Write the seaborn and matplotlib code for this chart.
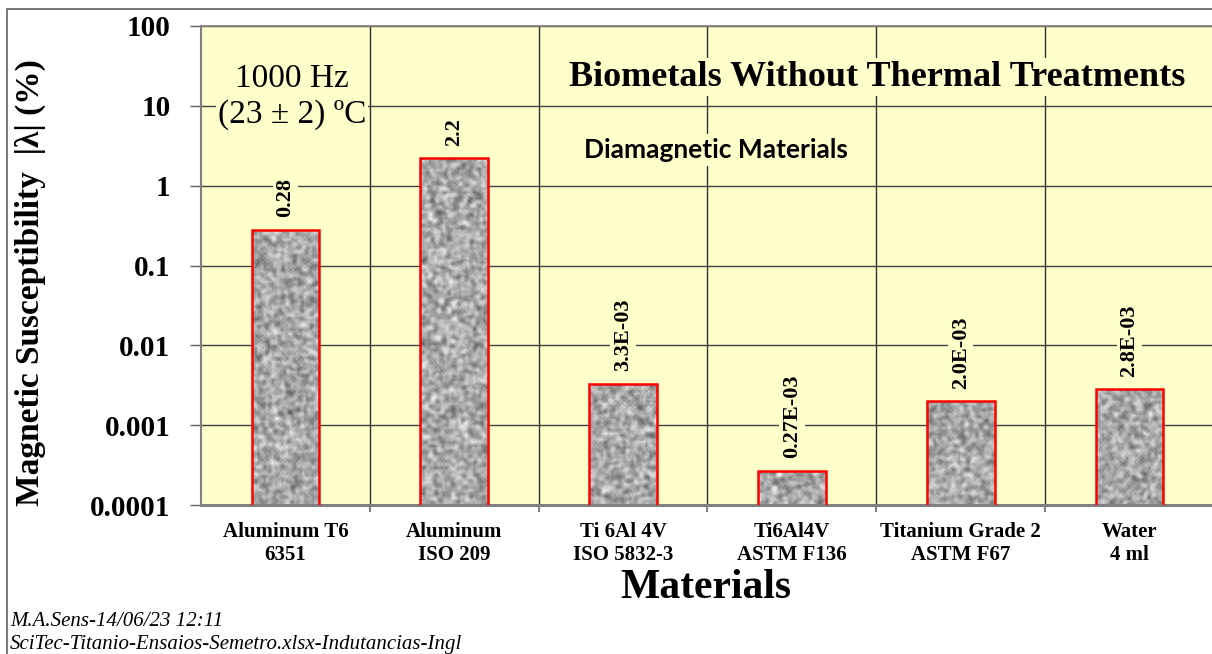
import numpy as np
import pandas as pd
import matplotlib
matplotlib.use("Agg")
import matplotlib.pyplot as plt
import seaborn as sns

# values
materials = ["Aluminum T6\n6351", "Aluminum\nISO 209", "Ti 6Al 4V\nISO 5832-3",
             "Ti6Al4V\nASTM F136", "Titanium Grade 2\nASTM F67", "Water\n4 ml"]
susceptibility = [0.28, 2.2, 3.3e-3, 0.27e-3, 2.0e-3, 2.8e-3]
value_labels = ["0.28", "2.2", "3.3E-03", "0.27E-03", "2.0E-03", "2.8E-03"]
y_ticks = [0.0001, 0.001, 0.01, 0.1, 1, 10, 100]
y_tick_labels = ["0.0001", "0.001", "0.01", "0.1", "1", "10", "100"]

df = pd.DataFrame({"material": materials, "value": susceptibility})

sns.set_theme(style="white")
plt.rcParams["font.family"] = ["Liberation Serif", "DejaVu Serif"]
plt.rcParams["text.color"] = "black"
plt.rcParams["xtick.color"] = "black"
plt.rcParams["ytick.color"] = "black"

BG = "#FFFFCC"

fig = plt.figure(figsize=(12.12, 6.54), dpi=100)
ax = fig.add_axes([201 / 1212, 1 - 505 / 654, 1013 / 1212, 479 / 654])
ax.set_facecolor(BG)

sns.barplot(data=df, x="material", y="value", width=0.4, color="#a8a8a8",
            edgecolor="red", linewidth=1.8, ax=ax)
ax.set_yscale("log")

ax.set_ylim(1e-4, 100)
ax.set_xlim(-0.5, 5.5)
ax.set_yticks(y_ticks)
ax.set_yticklabels(y_tick_labels)
ax.yaxis.set_minor_locator(matplotlib.ticker.NullLocator())
ax.set_xticks(np.arange(0.5, 5.5, 1.0), minor=True)
ax.set_axisbelow(True)
ax.yaxis.grid(True, which="major", color="#404040", lw=1)
ax.xaxis.grid(True, which="minor", color="#303030", lw=1)
ax.tick_params(axis="y", which="major", direction="out", length=8, width=1,
               color="#606060", pad=14, labelsize=21, left=True)
ax.tick_params(axis="x", which="major", length=0, pad=12, labelsize=15)
ax.tick_params(axis="x", which="minor", direction="out", length=5, width=1.5,
               color="#808080", bottom=True)
for lab in ax.get_yticklabels() + ax.get_xticklabels():
    lab.set_fontweight("bold")
ax.set_xlabel("")
ax.set_ylabel("")
for side in ["left", "bottom", "top"]:
    ax.spines[side].set_color("#808080")
ax.spines["left"].set_linewidth(1.5)
ax.spines["bottom"].set_linewidth(2.2)
ax.spines["top"].set_linewidth(1.2)
ax.spines["right"].set_visible(False)


# granite-like texture for the bars
def granite(h, w, seed):
    rng = np.random.default_rng(seed)
    a = rng.random((h, w))
    a = (a + np.roll(a, 1, 0) + np.roll(a, -1, 0)
         + np.roll(a, 1, 1) + np.roll(a, -1, 1)) / 5
    a = (a - a.min()) / (a.max() - a.min())
    return a


for i, patch in enumerate(ax.patches):
    tex = granite(240, 506, i + 3)
    img = ax.imshow(tex, cmap="gray", vmin=-0.45, vmax=0.98, extent=[0, 1, 0, 1],
                    transform=ax.transAxes, aspect="auto", interpolation="bilinear",
                    zorder=2.5)
    img.set_clip_path(patch)
    patch.set_facecolor("none")
    patch.set_zorder(3)

ax.set_ylim(1e-4, 100)
ax.set_xlim(-0.5, 5.5)

for i, (v, lab) in enumerate(zip(susceptibility, value_labels)):
    ax.annotate(lab, xy=(i, v), xytext=(0, 9), textcoords="offset points",
                rotation=90, ha="center", va="bottom", fontsize=16,
                fontweight="bold", zorder=4,
                bbox=dict(facecolor=BG, edgecolor="none", pad=2))

fig.text(877 / 1212, 1 - 77 / 654, "Biometals Without Thermal Treatments",
         ha="center", va="center", fontsize=26, fontweight="bold",
         bbox=dict(facecolor=BG, edgecolor="none", pad=2))
fig.text(716 / 1212, 1 - 150 / 654, "Diamagnetic Materials", ha="center",
         va="center", fontsize=19, fontweight="bold", family=["Lato", "DejaVu Sans"],
         bbox=dict(facecolor=BG, edgecolor="none", pad=3))
fig.text(292 / 1212, 1 - 97 / 654, "1000 Hz\n(23 ± 2) ºC", ha="center", va="center",
         fontsize=24, linespacing=1.22,
         bbox=dict(facecolor=BG, edgecolor="none", pad=1))

fig.text(30 / 1212, 1 - 283 / 654, "Magnetic Susceptibility  |λ| (%)",
         rotation=90, ha="center", va="center", fontsize=24, fontweight="bold")
fig.text(706 / 1212, 1 - 588 / 654, "Materials", ha="center", va="center",
         fontsize=30, fontweight="bold")

fig.text(10 / 1212, 1 - 621 / 654, "M.A.Sens-14/06/23 12:11", ha="left",
         va="center", fontsize=15, style="italic")
fig.text(10 / 1212, 1 - 644 / 654, "SciTec-Titanio-Ensaios-Semetro.xlsx-Indutancias-Ingl",
         ha="left", va="center", fontsize=15, style="italic")

fig.add_artist(plt.Rectangle((7 / 1212, -0.02), 1.0, 1 - 9 / 654 + 0.02,
                             transform=fig.transFigure, fill=False,
                             edgecolor="#606060", lw=1.2))

fig.savefig("out.png", dpi=100)
